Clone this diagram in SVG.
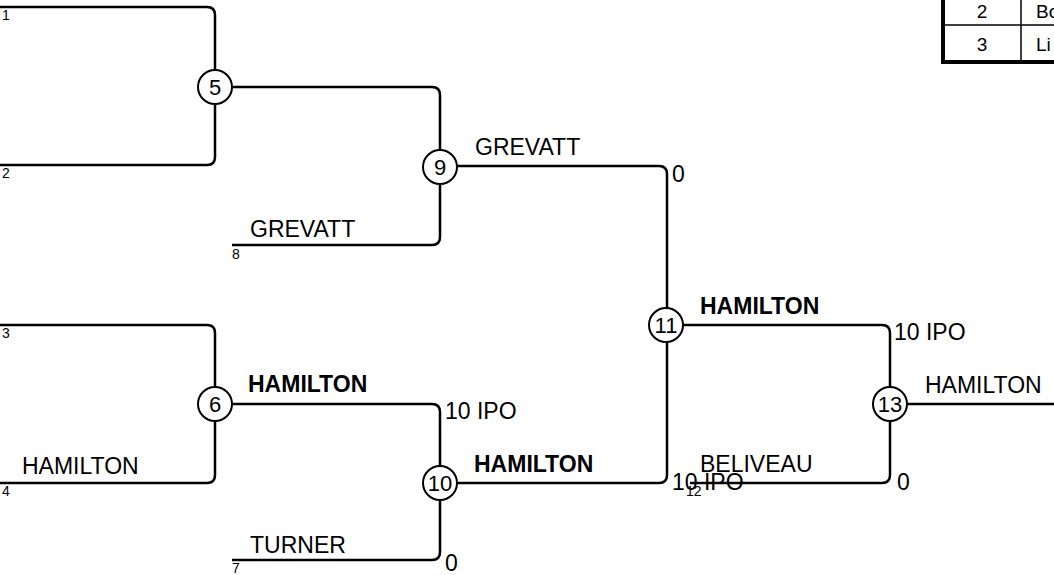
<svg xmlns="http://www.w3.org/2000/svg" width="1054" height="575" viewBox="0 0 1054 575">
<style>
.ln{fill:none;stroke:#000;stroke-width:2.5}
.nd circle{fill:#fff;stroke:#000;stroke-width:2}
.nd text{font-family:"Liberation Sans",Arial,sans-serif;font-size:22px;text-anchor:middle;fill:#000}
.t{font-family:"Liberation Sans",Arial,sans-serif;font-size:23px;fill:#000}
.b{font-weight:bold}
.s{font-family:"Liberation Sans",Arial,sans-serif;font-size:14px;fill:#000}
.tb{font-family:"Liberation Sans",Arial,sans-serif;font-size:19px;fill:#000}
</style>
<rect width="1054" height="575" fill="#fff"/>
<g id="table">
<rect x="943" y="-10" width="130" height="72" fill="#fff" stroke="#000" stroke-width="4"/>
<line x1="943" y1="25" x2="1054" y2="25" stroke="#000" stroke-width="1.5"/>
<line x1="1021" y1="-10" x2="1021" y2="62" stroke="#000" stroke-width="1.5"/>
<text class="tb" x="982" y="18" text-anchor="middle">2</text>
<text class="tb" x="1036" y="18">Bo</text>
<text class="tb" x="982" y="51" text-anchor="middle">3</text>
<text class="tb" x="1036" y="51">Li</text>
</g>
<g id="connectors">
<path class="ln" d="M0,7 H207 Q215,7 215,15 V70"/>
<path class="ln" d="M0,165 H207 Q215,165 215,157 V104"/>
<path class="ln" d="M232,87 H432 Q440,87 440,95 V150"/>
<path class="ln" d="M232,245 H432 Q440,245 440,237 V184"/>
<path class="ln" d="M457,166 H659 Q667,166 667,174 V308"/>
<path class="ln" d="M0,325 H207 Q215,325 215,333 V387"/>
<path class="ln" d="M0,483 H207 Q215,483 215,475 V421"/>
<path class="ln" d="M232,404 H432 Q440,404 440,412 V466"/>
<path class="ln" d="M232,560 H432 Q440,560 440,552 V500"/>
<path class="ln" d="M457,483 H659 Q667,483 667,475 V342"/>
<path class="ln" d="M683,325 H882 Q890,325 890,333 V387"/>
<path class="ln" d="M690,483 H882 Q890,483 890,475 V421"/>
<path class="ln" d="M907,404 H1054"/>
</g>
<g id="n5" class="nd"><circle cx="215" cy="87" r="17"/><text x="215" y="95">5</text></g>
<g id="n6" class="nd"><circle cx="215" cy="404" r="17"/><text x="215" y="412">6</text></g>
<g id="n9" class="nd"><circle cx="440" cy="167" r="17"/><text x="440" y="175">9</text></g>
<g id="n10" class="nd"><circle cx="440" cy="483" r="17"/><text x="440" y="491">10</text></g>
<g id="n11" class="nd"><circle cx="666" cy="325" r="17"/><text x="666" y="333">11</text></g>
<g id="n13" class="nd"><circle cx="890" cy="404" r="17"/><text x="890" y="412">13</text></g>
<g id="labels">
<text class="s" x="2" y="20">1</text>
<text class="s" x="2" y="178">2</text>
<text class="s" x="232" y="259">8</text>
<text class="s" x="2" y="338">3</text>
<text class="s" x="2" y="496">4</text>
<text class="s" x="232" y="573">7</text>
<text class="s" x="686" y="496">12</text>
<text class="t" x="475" y="155">GREVATT</text>
<text class="t" x="672" y="182">0</text>
<text class="t" x="250" y="237">GREVATT</text>
<text class="t" x="22" y="474">HAMILTON</text>
<text class="t b" x="248" y="392">HAMILTON</text>
<text class="t" x="445" y="419">10 IPO</text>
<text class="t" x="250" y="553">TURNER</text>
<text class="t" x="445" y="571">0</text>
<text class="t b" x="474" y="472">HAMILTON</text>
<text class="t b" x="700" y="314">HAMILTON</text>
<text class="t" x="672" y="490">10 IPO</text>
<text class="t" x="700" y="472">BELIVEAU</text>
<text class="t" x="894" y="340">10 IPO</text>
<text class="t" x="897" y="490">0</text>
<text class="t" x="925" y="393">HAMILTON</text>
</g>
</svg>
